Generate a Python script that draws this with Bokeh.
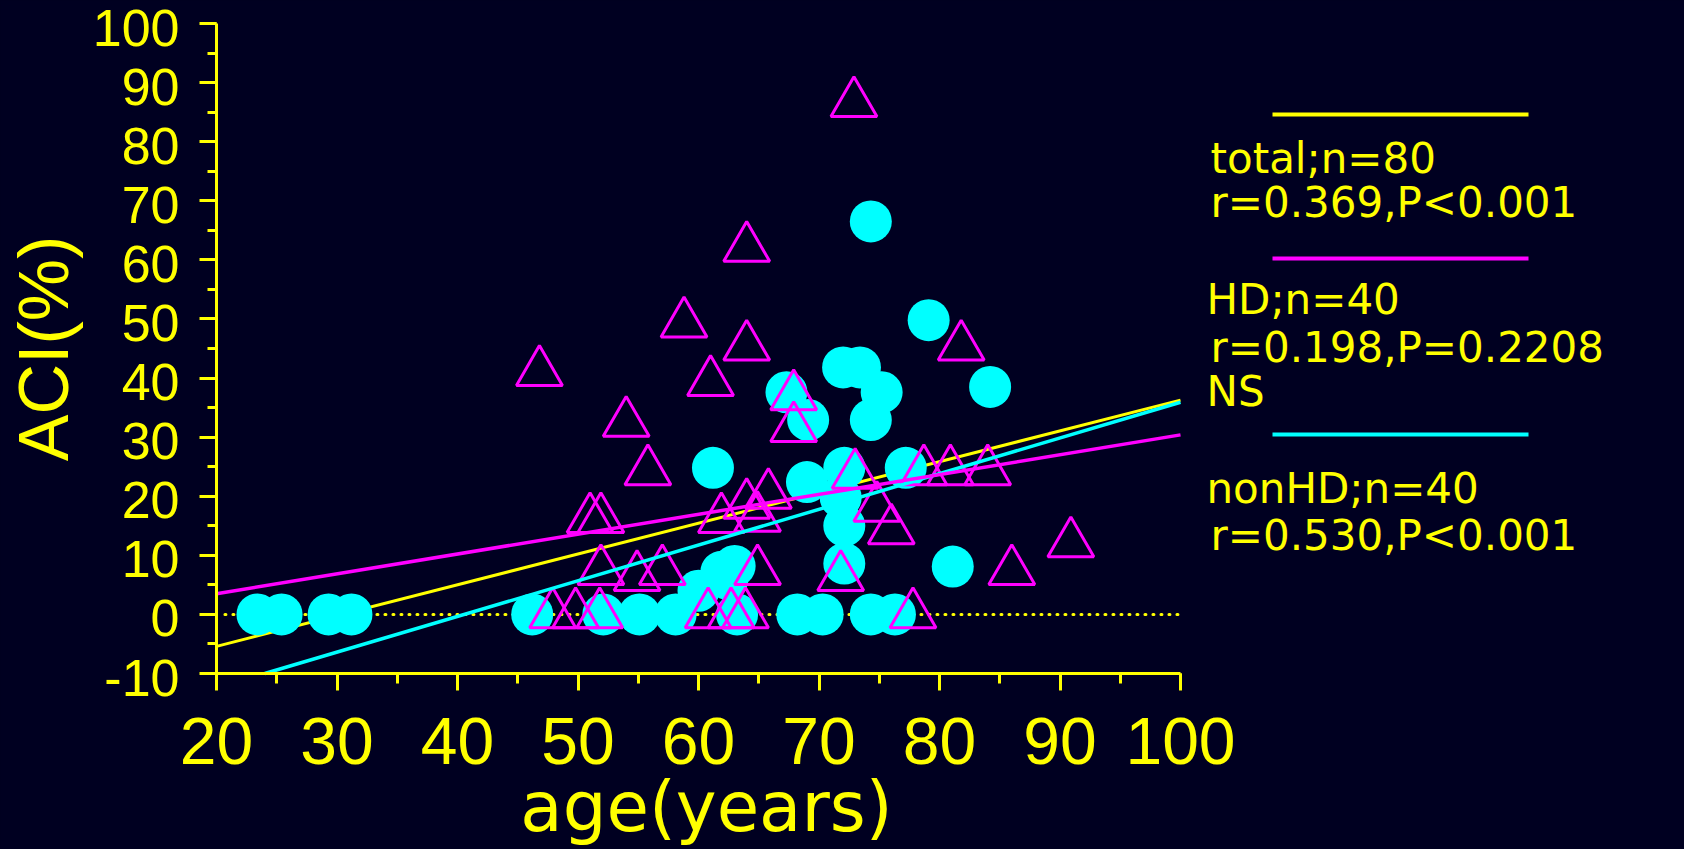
import math
from bokeh.plotting import figure
from bokeh.models import Range1d, SingleIntervalTicker
from bokeh.core.properties import value
from bokeh.embed import file_html
from bokeh.resources import INLINE

# ---------------- data ----------------
# nonHD (cyan circles)
nonhd_age = [23.4, 25.4, 29.3, 31.2, 46.2, 52.1, 55.1, 58.1, 63.2, 68.2, 70.3, 74.3, 76.3,
             60.0, 61.9, 63.0, 62.4, 61.2, 67.3, 69.1, 72.0, 73.4, 75.2, 74.3, 74.3, 79.1,
             84.2, 77.2, 69.0, 72.1, 71.8, 72.1, 72.1, 81.1]
nonhd_aci = [0, 0, 0, 0, 0, 0, 0, 0, 0, 0, 0, 0, 0,
             4.0, 7.2, 8.2, 6.0, 24.8, 37.6, 32.9, 41.8, 41.8, 37.6, 32.9, 66.5, 49.8,
             38.5, 24.8, 22.4, 24.8, 19.8, 15.0, 8.6, 8.1]

# HD (magenta triangles)
hd_age = [64.0, 58.8, 64.0, 46.8, 61.0, 54.0, 55.8, 67.9, 67.9, 81.8,
          51.0, 51.9, 61.9, 64.0, 64.9, 65.8, 73.0, 74.8, 76.0, 78.7,
          80.9, 84.0, 51.9, 54.9, 57.0, 64.9, 71.8, 86.0, 90.9, 72.9,
          47.9, 49.8, 51.8, 60.8, 62.7, 63.9, 77.8]
hd_aci = [62.0, 49.2, 45.3, 41.0, 39.3, 32.4, 24.2, 36.9, 31.5, 45.3,
          16.1, 16.1, 16.1, 18.5, 16.3, 20.2, 23.6, 18.0, 14.2, 24.2,
          24.2, 24.2, 7.3, 6.3, 7.3, 7.3, 6.3, 7.3, 12.0, 86.5,
          0, 0, 0, 0, 0, 0, 0]

# regression lines: intercept, slope
fit_names = ["total", "HD", "nonHD"]
fit_intercept = [-15.83, -3.22, -24.5]
fit_slope = [0.521, 0.336, 0.604]

legend_lines = ["total;n=80", "r=0.369,P<0.001",
                "HD;n=40", "r=0.198,P=0.2208", "NS",
                "nonHD;n=40", "r=0.530,P<0.001"]

x_ticks = [20, 30, 40, 50, 60, 70, 80, 90, 100]
y_ticks = [-10, 0, 10, 20, 30, 40, 50, 60, 70, 80, 90, 100]
y_tick_labels = ["-10", "0", "10", "20", "30", "40", "50", "60", "70", "80", "90", "100"]

# ---------------- styling ----------------
BG = "#000021"
YEL = "#FFFF00"
MAG = "#FF00FF"
CYA = "#00FFFF"

W, H = 1684, 849
AX_LEFT = 216      # page x of age=20
AX_TOP = 23        # page y of ACI=100
XPX = 12.05        # px per year
YPX = 650 / 110.0  # px per ACI unit
MID = 0.35         # distance (in em) from text baseline up to its middle


def X(px):  # page px -> data x
    return 20 + (px - AX_LEFT) / XPX


def Y(py):  # page px -> data y
    return 100 - (py - AX_TOP) / YPX


p = figure(width=W, height=H, x_range=Range1d(X(0), X(W)), y_range=Range1d(Y(H), Y(0)),
           output_backend="svg", toolbar_location=None,
           min_border_left=0, min_border_right=0, min_border_top=0, min_border_bottom=0,
           background_fill_color=BG, border_fill_color=BG, outline_line_color=None)
p.xgrid.visible = False
p.ygrid.visible = False

for ax in (p.xaxis[0], p.yaxis[0]):
    ax.ticker = SingleIntervalTicker(interval=10, num_minor_ticks=2)
    ax.axis_line_color = YEL
    ax.axis_line_width = 3
    ax.major_tick_line_color = YEL
    ax.major_tick_line_width = 3
    ax.minor_tick_line_color = YEL
    ax.minor_tick_line_width = 3
    ax.major_tick_in = 0
    ax.minor_tick_in = 0
    ax.major_tick_out = 17
    ax.major_label_text_color = YEL
    ax.major_label_text_font = "Liberation Sans"

p.xaxis.fixed_location = -10
p.xaxis.bounds = (20, 100)
p.xaxis.minor_tick_out = 10
p.xaxis.major_label_text_font_size = "66px"
p.xaxis.major_label_standoff = 27

p.yaxis.fixed_location = 20
p.yaxis.bounds = (-10, 100)
p.yaxis.minor_tick_out = 9
p.yaxis.major_label_overrides = {t: "" for t in y_ticks}

# y tick labels (set slightly below their ticks, as in the original)
p.text(x=[20] * len(y_ticks), y=y_ticks, text=y_tick_labels, x_offset=-37, y_offset=4,
       text_color=YEL, text_font=value("Liberation Sans"), text_font_size="52px",
       text_align="right", text_baseline="middle")

# zero reference line (dotted)
p.line([20.7, 99.8], [0, 0], line_color=YEL, line_width=3, line_dash="1 7", line_cap="round")

# regression lines
fit_src = {}
for n, b, m in zip(fit_names, fit_intercept, fit_slope):
    x0 = max(20.0, (-10 - b) / m)
    fit_src[n] = ([x0, 100.0], [b + m * x0, b + m * 100.0])

p.line(*fit_src["total"], line_color=YEL, line_width=3)

p.scatter(nonhd_age, nonhd_aci, marker="circle", size=42, fill_color=CYA, line_color=None)
p.scatter(hd_age, hd_aci, marker="triangle", size=46, fill_color=None,
          line_color=MAG, line_width=3)

p.line(*fit_src["nonHD"], line_color=CYA, line_width=3.5)
p.line(*fit_src["HD"], line_color=MAG, line_width=3.5)

# legend sample lines
for py, c in ((114, YEL), (258, MAG), (434, CYA)):
    p.line([X(1272), X(1528)], [Y(py), Y(py)], line_color=c, line_width=4)

# legend text (baseline-left positions in page pixels)
LEG_FS = 42
legend_px = [1210, 1210, 1206, 1210, 1206, 1206, 1210]
legend_py = [173, 217, 314, 362, 406, 503, 550]
p.text(x=[X(v) for v in legend_px], y=[Y(v - MID * LEG_FS) for v in legend_py], text=legend_lines,
       text_color=YEL, text_font=value("DejaVu Sans"), text_font_size="%dpx" % LEG_FS,
       text_align="left", text_baseline="middle")

# axis titles
p.text(x=[X(706)], y=[Y(831 - MID * 69)], text=["age(years)"], text_color=YEL,
       text_font=value("DejaVu Sans"), text_font_size="69px",
       text_align="center", text_baseline="middle")
p.text(x=[X(68 - MID * 70)], y=[Y(348)], text=["ACI(%)"], angle=math.pi / 2, text_color=YEL,
       text_font=value("Liberation Sans"), text_font_size="70px",
       text_align="center", text_baseline="middle")

html = file_html(p, INLINE)
html = html.replace("</head>",
                    "<style>html,body{margin:0;padding:0;overflow:hidden;background:%s;}</style></head>" % BG)
open("out.html", "w").write(html)
